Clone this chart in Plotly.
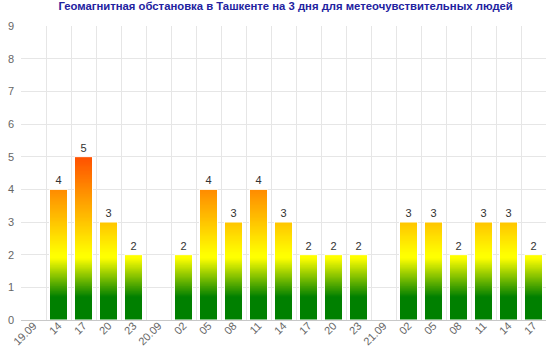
import plotly.graph_objects as go

title = "Геомагнитная обстановка в Ташкенте на 3 дня для метеочувствительных людей"
tick_labels = ["19.09", "14", "17", "20", "23", "20.09", "02", "05", "08", "11", "14",
               "17", "20", "23", "21.09", "02", "05", "08", "11", "14", "17"]
kp_values = [None, 4, 5, 3, 2, None, 2, 4, 3, 4, 3, 2, 2, 2, None, 3, 3, 2, 3, 3, 2]

# gradient stops along the y axis (absolute kp value -> colour)
stops = [(0.0, (0, 128, 0)), (0.7, (0, 128, 0)), (1.9, (255, 255, 0)),
         (2.0, (255, 255, 0)), (5.0, (255, 80, 0)), (9.0, (255, 0, 0))]

def grad(y):
    for (y0, c0), (y1, c1) in zip(stops[:-1], stops[1:]):
        if y <= y1:
            t = 0 if y1 == y0 else (y - y0) / (y1 - y0)
            t = max(0, min(1, t))
            return "rgb(%d,%d,%d)" % tuple(round(a + (b - a) * t) for a, b in zip(c0, c1))
    return "rgb(255,0,0)"

xs = list(range(len(tick_labels)))
step = 0.04
vmax = max(v for v in kp_values if v is not None)
nlev = int(round(vmax / step))

sx, sy, sc = [], [], []
for k in range(nlev - 1, -1, -1):
    top = (k + 1) * step
    for x, v in zip(xs, kp_values):
        if v is None or k * step >= v - 1e-9:
            continue
        sx.append(x)
        sy.append(min(top, v))
        sc.append(grad(min(top, v) - step / 2))

fig = go.Figure()
fig.add_trace(go.Bar(x=sx, y=sy, marker=dict(color=sc, line=dict(width=0)),
                     width=0.72, hoverinfo="skip", showlegend=False))
fig.add_trace(go.Bar(x=xs, y=kp_values, width=0.72,
                     marker=dict(color="rgba(0,0,0,0)", line=dict(color="white", width=1)),
                     text=[("" if v is None else str(v)) for v in kp_values],
                     textposition="outside", cliponaxis=False,
                     textfont=dict(family="Liberation Sans, Arial", size=11, color="#333333"),
                     showlegend=False))

fig.update_layout(
    barmode="overlay",
    width=560, height=351,
    margin=dict(l=21, r=14, t=26, b=31, autoexpand=False),
    paper_bgcolor="white", plot_bgcolor="white",
    title=dict(text="<b>" + title + "</b>", x=0.51, xanchor="center", y=0.993, yanchor="top",
               font=dict(family="Liberation Sans, Arial", size=11.3, color="#22229f")),
    font=dict(family="Liberation Sans, Arial"),
    xaxis=dict(range=[-0.5, len(xs) - 0.5], tickmode="array", tickvals=xs, ticktext=tick_labels,
               tickangle=-45, tickfont=dict(size=11, color="#666666"), showgrid=False,
               showline=True, linecolor="#c8c8c8", linewidth=1, ticks="", zeroline=False,
               automargin=False, ticklabelstandoff=-6,
               minor=dict(tickmode="linear", tick0=-0.5, dtick=1, showgrid=True,
                          gridcolor="#e6e6e6", gridwidth=1)),
    yaxis=dict(range=[0, 9], dtick=1, tick0=0, showgrid=True, gridcolor="#e6e6e6",
               zeroline=False, tickfont=dict(size=11, color="#666666"), ticks="",
               automargin=False, ticklabelstandoff=6),
)

fig.write_html("out.html")
